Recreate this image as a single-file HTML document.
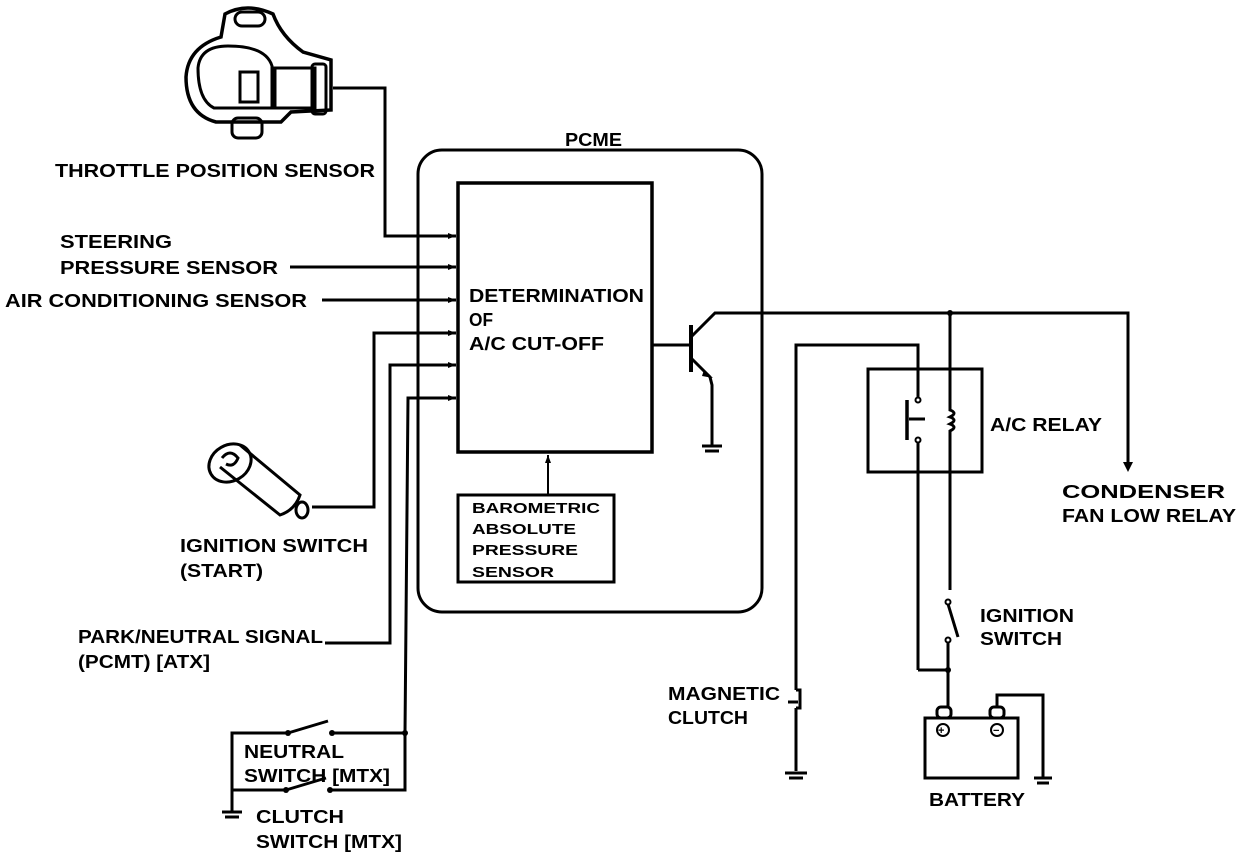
<!DOCTYPE html>
<html><head><meta charset="utf-8"><style>
html,body{margin:0;padding:0;background:#fff;}
svg{display:block;}
text{font-family:"Liberation Sans",sans-serif;font-weight:bold;fill:#000;}
</style></head><body>
<svg width="1248" height="858" viewBox="0 0 1248 858" xmlns="http://www.w3.org/2000/svg">
<defs>
<marker id="ah" markerWidth="8" markerHeight="6" refX="8" refY="3" orient="auto" markerUnits="userSpaceOnUse">
<path d="M0,0 L8,3 L0,6 z" fill="#000"/></marker>
</defs>
<g fill="none" stroke="#000" stroke-width="3">
<!-- PCME -->
<rect x="418" y="150" width="344" height="462" rx="24"/>
<rect x="458" y="183" width="194" height="269" stroke-width="3.5"/>
<rect x="458" y="495" width="156" height="87"/>
<line x1="548" y1="495" x2="548" y2="455" stroke-width="2" marker-end="url(#ah)"/>
<!-- inputs -->
<polyline points="333,88 385,88 385,236 456,236" marker-end="url(#ah)"/>
<line x1="290" y1="267" x2="456" y2="267" marker-end="url(#ah)"/>
<line x1="322" y1="300" x2="456" y2="300" marker-end="url(#ah)"/>
<polyline points="312,507 374,507 374,333 456,333" marker-end="url(#ah)"/>
<polyline points="325,643 390,643 390,365 456,365" marker-end="url(#ah)"/>
<polyline points="405,733 408,398 456,398" marker-end="url(#ah)"/>
<!-- neutral / clutch switch -->
<polyline points="232,812 232,733 288,733"/>
<line x1="288" y1="733" x2="328" y2="721"/>
<polyline points="332,733 405,733 405,790 330,790"/>
<line x1="286" y1="790" x2="326" y2="778"/>
<line x1="232" y1="790" x2="286" y2="790"/>
<line x1="222" y1="812" x2="242" y2="812"/>
<line x1="225" y1="817" x2="239" y2="817"/>
<!-- transistor -->
<line x1="652" y1="345" x2="690" y2="345"/>
<line x1="691" y1="325" x2="691" y2="372" stroke-width="4"/>
<polyline points="691,337 715,313 1128,313 1128,468"/>
<polyline points="691,358 710,377 712,385 712,445"/>
<line x1="702" y1="446" x2="722" y2="446"/>
<line x1="705" y1="451" x2="719" y2="451"/>
<!-- magnetic clutch -->
<polyline points="918,398 918,345 796,345 796,690"/>
<path d="M796,690 h4 v18 h-4"/>
<line x1="788" y1="702" x2="798" y2="702"/>
<line x1="796" y1="708" x2="796" y2="771"/>
<line x1="785" y1="773" x2="807" y2="773"/>
<line x1="789" y1="778" x2="803" y2="778"/>
<!-- relay -->
<rect x="868" y="369" width="114" height="103"/>
<line x1="950" y1="313" x2="950" y2="400"/>
<path d="M950,400 v10 q8,3 0,7 q8,3 0,7 q8,3 0,7 v9"/>
<line x1="950" y1="440" x2="950" y2="590"/>
<line x1="907" y1="400" x2="907" y2="440" stroke-width="3.5"/>
<line x1="909" y1="419" x2="925" y2="419"/>
<circle cx="918" cy="400" r="2.5" stroke-width="2"/><circle cx="918" cy="440" r="2.5" stroke-width="2"/>
<line x1="918" y1="443" x2="918" y2="670"/>
<polyline points="918,670 948,670"/>
<!-- ignition switch -->
<circle cx="948" cy="602" r="2.5" stroke-width="2"/>
<line x1="948" y1="604" x2="958" y2="637"/>
<circle cx="948" cy="640" r="2.5" stroke-width="2"/>
<line x1="948" y1="642" x2="948" y2="708"/>
<!-- battery -->
<rect x="925" y="718" width="93" height="60"/>
<rect x="937" y="707" width="14" height="11" rx="4"/>
<rect x="990" y="707" width="14" height="11" rx="4"/>
<circle cx="943" cy="730" r="6" stroke-width="2"/>
<circle cx="997" cy="730" r="6" stroke-width="2"/>
<polyline points="997,707 997,695 1043,695 1043,778"/>
<line x1="1034" y1="778" x2="1052" y2="778"/>
<line x1="1037" y1="783" x2="1049" y2="783"/>
<!-- throttle position sensor -->
<path d="M225,14 q22,-12 48,0 q8,22 30,38 l28,8 v50 l-40,2 l-10,10 h-65 q-30,-8 -30,-45 q2,-30 35,-40 z" stroke-width="3.5"/>
<path d="M198,68 q2,-22 30,-22 q38,0 44,20 v42 h-58 q-16,-8 -16,-40 z" stroke-width="3"/>
<rect x="240" y="72" width="18" height="30"/>
<rect x="275" y="68" width="40" height="40"/>
<rect x="312" y="64" width="14" height="50" rx="3"/>
<rect x="235" y="12" width="30" height="14" rx="7"/>
<rect x="232" y="118" width="30" height="20" rx="6"/>
<!-- ignition switch (start) drawing -->
<ellipse cx="230" cy="463" rx="22" ry="18" transform="rotate(-30 230 463)"/>
<path d="M222,458 q8,-10 16,0 q-4,10 -12,6" />
<path d="M240,445 l60,50 q-5,15 -20,20 l-60,-48"/>
<ellipse cx="302" cy="510" rx="6" ry="8"/>
</g>
<g fill="#000">
<circle cx="950" cy="313" r="3"/>
<circle cx="948" cy="670" r="3"/>
<circle cx="405" cy="733" r="3"/>
<circle cx="288" cy="733" r="3"/><circle cx="332" cy="733" r="3"/>
<circle cx="286" cy="790" r="3"/><circle cx="330" cy="790" r="3"/>
<path d="M704,370 l9,8 l-11,-2 z"/>
<path d="M1123,462 l5,10 l5,-10 z"/>
</g>
<g font-size="18">
<text x="565" y="146" textLength="57" lengthAdjust="spacingAndGlyphs">PCME</text>
<text x="55" y="177" textLength="320" lengthAdjust="spacingAndGlyphs">THROTTLE POSITION SENSOR</text>
<text x="60" y="248" textLength="112" lengthAdjust="spacingAndGlyphs">STEERING</text>
<text x="60" y="274" textLength="218" lengthAdjust="spacingAndGlyphs">PRESSURE SENSOR</text>
<text x="5" y="307" textLength="302" lengthAdjust="spacingAndGlyphs">AIR CONDITIONING SENSOR</text>
<text x="469" y="302" textLength="175" lengthAdjust="spacingAndGlyphs">DETERMINATION</text>
<text x="469" y="326" textLength="24" lengthAdjust="spacingAndGlyphs">OF</text>
<text x="469" y="350" textLength="135" lengthAdjust="spacingAndGlyphs">A/C CUT-OFF</text>
<text x="180" y="552" textLength="188" lengthAdjust="spacingAndGlyphs">IGNITION SWITCH</text>
<text x="180" y="577" textLength="83" lengthAdjust="spacingAndGlyphs">(START)</text>
<text x="78" y="643" textLength="245" lengthAdjust="spacingAndGlyphs">PARK/NEUTRAL SIGNAL</text>
<text x="78" y="668" textLength="132" lengthAdjust="spacingAndGlyphs">(PCMT) [ATX]</text>
<text x="244" y="758" textLength="100" lengthAdjust="spacingAndGlyphs">NEUTRAL</text>
<text x="244" y="782" textLength="146" lengthAdjust="spacingAndGlyphs">SWITCH [MTX]</text>
<text x="256" y="823" textLength="88" lengthAdjust="spacingAndGlyphs">CLUTCH</text>
<text x="256" y="848" textLength="146" lengthAdjust="spacingAndGlyphs">SWITCH [MTX]</text>
<text x="990" y="431" textLength="112" lengthAdjust="spacingAndGlyphs">A/C RELAY</text>
<text x="1062" y="498" textLength="163" lengthAdjust="spacingAndGlyphs">CONDENSER</text>
<text x="1062" y="522" textLength="174" lengthAdjust="spacingAndGlyphs">FAN LOW RELAY</text>
<text x="980" y="622" textLength="94" lengthAdjust="spacingAndGlyphs">IGNITION</text>
<text x="980" y="645" textLength="82" lengthAdjust="spacingAndGlyphs">SWITCH</text>
<text x="668" y="700" textLength="112" lengthAdjust="spacingAndGlyphs">MAGNETIC</text>
<text x="668" y="724" textLength="80" lengthAdjust="spacingAndGlyphs">CLUTCH</text>
<text x="929" y="806" textLength="96" lengthAdjust="spacingAndGlyphs">BATTERY</text>
</g>
<g font-size="15">
<text x="472" y="513" textLength="128" lengthAdjust="spacingAndGlyphs">BAROMETRIC</text>
<text x="472" y="534" textLength="104" lengthAdjust="spacingAndGlyphs">ABSOLUTE</text>
<text x="472" y="555" textLength="106" lengthAdjust="spacingAndGlyphs">PRESSURE</text>
<text x="472" y="577" textLength="82" lengthAdjust="spacingAndGlyphs">SENSOR</text>
</g>
<g font-size="11">
<text x="938" y="734">+</text>
<text x="993" y="734">−</text>
</g>
</svg>
</body></html>
